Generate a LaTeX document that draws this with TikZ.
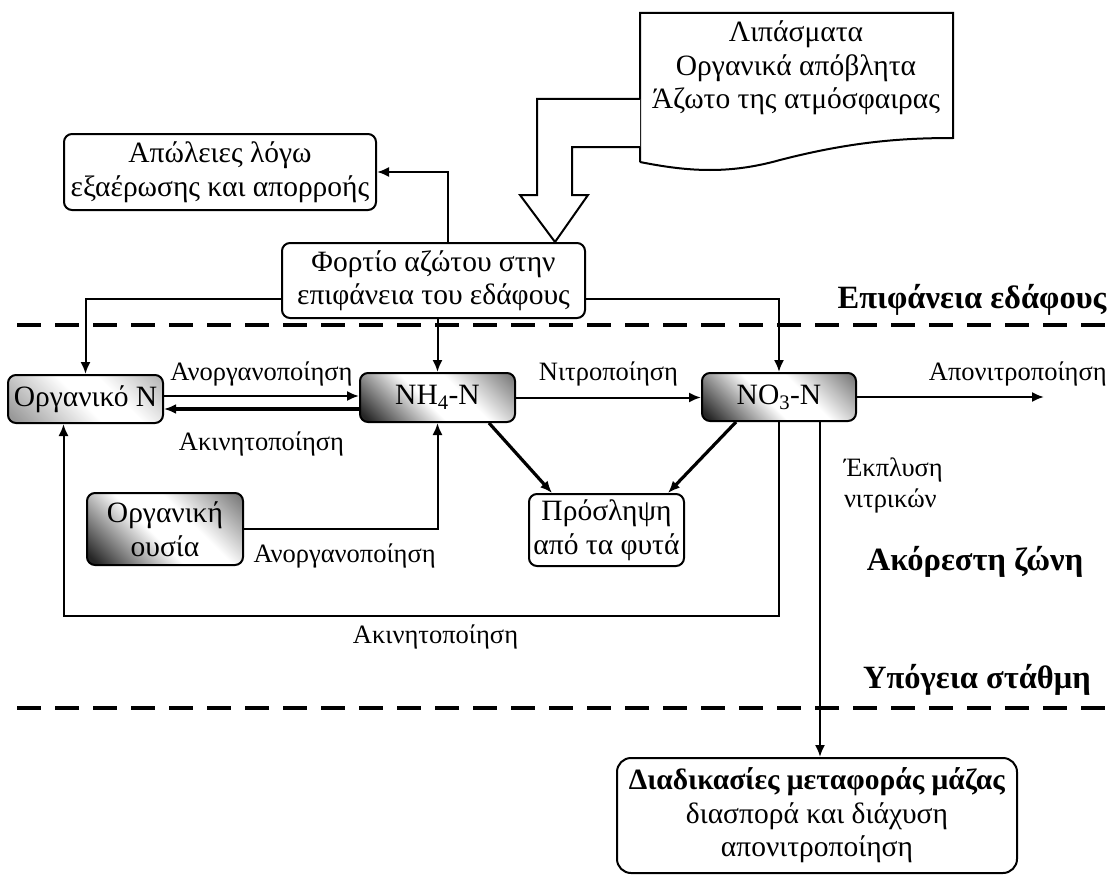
\documentclass[tikz,border=0pt]{standalone}
\usepackage{fontspec}
\setmainfont{Liberation Serif}
\usetikzlibrary{arrows.meta,positioning,calc}

\pgfdeclarehorizontalshading{darkshade}{100bp}{color(0bp)=(black!90); color(18bp)=(black!85);
    color(45bp)=(white); color(60bp)=(white); color(85bp)=(black!55); color(100bp)=(black!55)}
\pgfdeclarehorizontalshading{lightshade}{100bp}{color(0bp)=(black!45); color(18bp)=(black!40);
    color(48bp)=(white); color(62bp)=(white); color(85bp)=(black!30); color(100bp)=(black!30)}

\begin{document}
\begin{tikzpicture}[x=1pt, y=-1pt,
    every node/.style={font=\fontsize{29.5}{33.5}\selectfont, align=center},
    box/.style={draw, line width=2pt, rounded corners=8pt, inner sep=0pt, fill=white},
    shadedbox/.style={box, shading=darkshade, shading angle=45},
    lightbox/.style={box, shading=lightshade, shading angle=45},
    flow/.style={line width=2pt, -{Latex[length=12pt,width=10pt]}},
    flowthick/.style={flow, line width=3.2pt},
    lbl/.style={font=\fontsize{26.5}{31}\selectfont, inner sep=0pt},
    zone/.style={font=\fontsize{32.5}{36}\selectfont\bfseries},
    surface/.style={line width=4.5pt, dash pattern=on 24pt off 14pt}]

    \useasboundingbox (0,0) rectangle (1112,875);

    \draw[surface] (17,325) -- (1112,325);
    \draw[surface] (17,708) -- (1112,708);

    \node[lightbox, minimum width=155pt, minimum height=48pt] (orgN) at (85.5,399) {Οργανικό N};
    \node[shadedbox, minimum width=155pt, minimum height=49pt] (nh4) at (437.5,397.5) {NH\textsubscript{4}-N};
    \node[shadedbox, minimum width=154pt, minimum height=48pt] (no3) at (779,397) {NO\textsubscript{3}-N};
    \node[shadedbox, minimum width=156pt, minimum height=72pt] (ousia) at (165,529) {Οργανική\\ουσία};
    \node[box, minimum width=155pt, minimum height=72pt] (plant) at (606.5,530) {Πρόσληψη\\από τα φυτά};
    \node[box, minimum width=303pt, minimum height=75pt] (load) at (433.5,280.5) {Φορτίο αζώτου στην\\επιφάνεια του εδάφους};
    \node[box, minimum width=312pt, minimum height=76pt] (loss) at (220,172) {Απώλειες λόγω\\εξαέρωσης και απορροής};
    \node[box, minimum width=400pt, minimum height=115pt, rounded corners=14pt] (mass) at (817,815.5)
        {\textbf{Διαδικασίες μεταφοράς μάζας}\\διασπορά και διάχυση\\απονιτροποίηση};

    \draw[line width=2pt, fill=white] (640,162) -- (640,13) -- (953,13) -- (953,138)
        .. controls (900,138) and (850,142) .. (780,160) .. controls (730,174) and (690,172) .. (640,162);
    \node (input) at (796,68) {Λιπάσματα\\Οργανικά απόβλητα\\Άζωτο της ατμόσφαιρας};
    \draw[line width=2pt, fill=white] (640,99) -- (537,99) -- (537,195) -- (520,195) -- (555,0 |- load.north)
        -- (588,195) -- (572,195) -- (572,147) -- (640,147);

    \node[zone] (surfacelbl) at (972,300) {Επιφάνεια εδάφους};
    \node[zone] (vadose) at (975,562) {Ακόρεστη ζώνη};
    \node[zone] (watertable) at (977,680) {Υπόγεια στάθμη};

    \draw[flow] ([xshift=14pt]load.north) |- (loss.east);
    \draw[flow] ([yshift=-18pt]load.west) -| (orgN.north);
    \draw[flow] (load.south -| nh4.north) -- (nh4.north);
    \draw[flow] ([yshift=-18pt]load.east) -| (no3.north);

    \draw[flow] ([yshift=3pt]orgN.east) -- ([yshift=3pt]orgN.east -| nh4.west)
        node[lbl, midway, above=9pt] {Ανοργανοποίηση};
    \draw[flowthick] ([yshift=-10pt]orgN.east -| nh4.west) -- ([yshift=-10pt]orgN.east)
        node[lbl, midway, below=21pt] {Ακινητοποίηση};
    \draw[flow] (nh4.east) -- (nh4.east -| no3.west)
        node[lbl, midway, above=10pt] {Νιτροποίηση};
    \draw[flow] (no3.east) -- ++(187,0)
        node[lbl, pos=0.86, above=10pt] {Απονιτροποίηση};
    \draw[flow] (ousia.east) -| (nh4.south)
        node[lbl, pos=0.26, below=14pt] {Ανοργανοποίηση};
    \draw[flowthick] ([xshift=-27pt]nh4.south east) -- ([xshift=24pt]plant.north west);
    \draw[flowthick] ([xshift=35pt]no3.south west) -- ([xshift=-17pt]plant.north east);
    \draw[flow] (no3.south) |- ([xshift=-22pt,yshift=-192pt]orgN.south)
        node[lbl, pos=0.74, below=8pt] {Ακινητοποίηση} -- ([xshift=-22pt]orgN.south);
    \draw[flow] ([xshift=41pt]no3.south) -- ([xshift=41pt]no3.south |- mass.north)
        node[lbl, pos=0.19, right=23pt, align=left] {Έκπλυση\\νιτρικών};
\end{tikzpicture}
\end{document}
